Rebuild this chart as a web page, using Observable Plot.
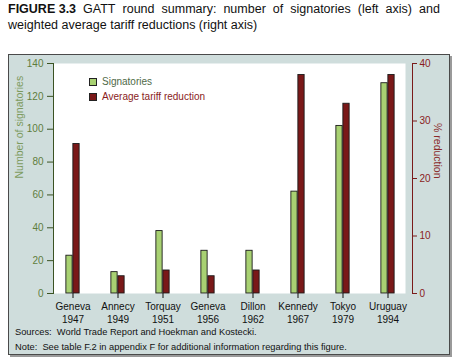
<!DOCTYPE html>
<html>
<head>
<meta charset="utf-8">
<script src="https://cdn.jsdelivr.net/npm/d3@7"></script>
<script src="https://cdn.jsdelivr.net/npm/@observablehq/plot@0.6"></script>
<style>
  html, body { margin: 0; padding: 0; background: #fff; width: 462px; height: 363px; overflow: hidden; font-family: "Liberation Sans", Arial, sans-serif; }
  .tl { position: absolute; left: 8px; width: 432px; font-size: 12.5px; line-height: 16px; color: #111; white-space: nowrap; }
  #t1 { top: 1px; display: flex; justify-content: space-between; }
  #t2 { top: 17px; }
  #box { position: absolute; left: 8px; top: 54px; width: 440px; height: 299px; background: #cfdddc; border: 1.5px solid #4a4a4a; box-shadow: 2px 2px 0 #9a9a9a; }
  #chart { position: absolute; left: 0; top: 0; z-index: 2; }
  .legend { position: absolute; z-index: 3; font-size: 10px; display: flex; align-items: center; }
  .sw { width: 6px; height: 6px; border: 1px solid #222; margin-right: 5px; }
  .note { position: absolute; left: 15px; z-index: 3; font-size: 9.3px; color: #111; white-space: pre; }
</style>
</head>
<body>
<div class="tl" id="t1"><b>FIGURE 3.3</b><span>GATT</span><span>round</span><span>summary:</span><span>number</span><span>of</span><span>signatories</span><span>(left</span><span>axis)</span><span>and</span></div>
<div class="tl" id="t2">weighted average tariff reductions (right axis)</div>
<div id="box"></div>
<div id="chart"></div>
<div class="legend" style="left:89px; top:76px; color:#4f6a48;"><div class="sw" style="background:#a8d172"></div>Signatories</div>
<div class="legend" style="left:89px; top:91px; color:#8a1c1c;"><div class="sw" style="background:#7a1818"></div>Average tariff reduction</div>
<div class="note" style="top:327px;">Sources:  World Trade Report and Hoekman and Kostecki.</div>
<div class="note" style="top:342px;">Note:  See table F.2 in appendix F for additional information regarding this figure.</div>
<script>
const rounds = ["Geneva", "Annecy", "Torquay", "Geneva", "Dillon", "Kennedy", "Tokyo", "Uruguay"];
const years = ["1947", "1949", "1951", "1956", "1962", "1967", "1979", "1994"];
const signatories = [23, 13, 38, 26, 26, 62, 102, 128];
const tariffReduction = [26, 3, 4, 3, 4, 38, 33, 38];
const leftTicks = [0, 20, 40, 60, 80, 100, 120, 140];
const rightTicks = [0, 10, 20, 30, 40];

const leftMax = 140, rightMax = 40, k = leftMax / rightMax;
const data = rounds.map((r, i) => ({
  key: r + "\n" + years[i],
  sig: signatories[i],
  tar: tariffReduction[i] * k
}));
const keys = data.map(d => d.key);

const step = 45.75; // band step in px
const barW = 7;
const innerGap = step / 2 - barW;

const chart = Plot.plot({
  width: 462,
  height: 363,
  marginLeft: 53,
  marginRight: 57,
  marginTop: 63,
  marginBottom: 70,
  style: { background: "transparent", fontFamily: "Liberation Sans, Arial, sans-serif", fontSize: "10px" },
  x: { type: "band", domain: keys, range: [53 - 6, 53 - 6 + step * 8], padding: 0 },
  y: { domain: [0, leftMax], label: null },
  marks: [
    Plot.frame({ fill: "white", stroke: null }),
    Plot.barY(data, { x: "key", y: "sig", fill: "#a8d172", stroke: "#1a1a1a", strokeWidth: 0.9, insetLeft: innerGap, insetRight: step / 2 }),
    Plot.barY(data, { x: "key", y: "tar", fill: "#7a1818", stroke: "#1a1a1a", strokeWidth: 0.9, insetLeft: step / 2, insetRight: innerGap }),
    Plot.frame({ anchor: "left", stroke: "#3b5323", strokeWidth: 1 }),
    Plot.frame({ anchor: "right", stroke: "#7a1a1a", strokeWidth: 1, dx: 7 }),
    Plot.axisY(leftTicks, { anchor: "left", tickSize: 6, tickPadding: 4, stroke: "#3b5323", color: "#5f7d3c", fontSize: 10, label: null }),
    Plot.axisY(rightTicks.map(t => t * k), { anchor: "right", tickSize: 4, tickPadding: 3, dx: 7, stroke: "#7a1a1a", color: "#8a1c1c", fontSize: 10, tickFormat: d => d / k, label: null }),
    Plot.axisX({ tickSize: 5, tickPadding: 2, stroke: "#111", color: "#111", fontSize: 10, lineHeight: 1.3, label: null }),
    Plot.text(["Number of signatories"], { frameAnchor: "left", dx: -34, rotate: -90, fill: "#7d9a5e", fontSize: 10.5 }),
    Plot.text(["% reduction"], { frameAnchor: "right", dx: 32, rotate: 90, fill: "#8a2a2a", fontSize: 10.5 })
  ]
});
document.getElementById("chart").appendChild(chart);
</script>
</body>
</html>
